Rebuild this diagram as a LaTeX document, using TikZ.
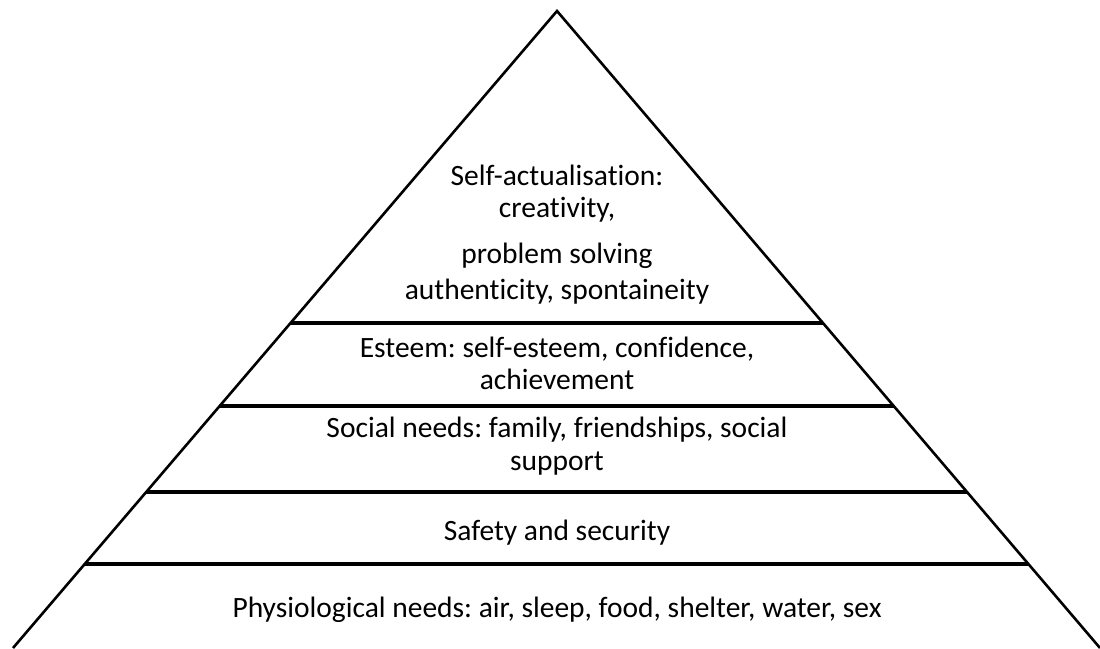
\documentclass[tikz,border=0pt]{standalone}
\usepackage{fontspec}
\setmainfont{Carlito}[Ligatures=NoCommon]
\frenchspacing
\usetikzlibrary{calc}
\tikzset{
  side/.style={line width=2.6pt,line join=miter},
  tier/.style={line width=3.4pt},
  tiertext/.style={anchor=base,inner sep=0pt,font=\fontsize{29.5}{36}\selectfont}
}
\begin{document}
\begin{tikzpicture}[x=1pt,y=-1pt]
  \useasboundingbox (0,0) rectangle (1100,648);
  \coordinate (apex) at (557,11);
  \coordinate (bl) at (13,648);
  \coordinate (br) at (1100,648);
  \draw[side] (bl) -- (apex) -- (br);
  % level boundaries, clipped to the two sides
  \foreach \y/\n in {323/a,406/b,492/c,564/d}{
    \draw[tier] ($(apex)!{(\y-11)/637}!(bl)$) coordinate (l\n)
             -- ($(apex)!{(\y-11)/637}!(br)$) coordinate (r\n);
  }

  \node[tiertext] (self1) at (557,185) {Self-actualisation:};
  \node[tiertext] (self2) at (557,217) {creativity,};
  \node[tiertext] (self3) at (557,263) {problem solving};
  \node[tiertext] (self4) at (557,299) {authenticity, spontaineity};
  \node[tiertext] (est1) at (557,357) {Esteem: self-esteem, confidence,};
  \node[tiertext] (est2) at (557,389) {achievement};
  \node[tiertext] (soc1) at (557,437) {Social needs: family, friendships, social};
  \node[tiertext] (soc2) at (557,470) {support};
  \node[tiertext] (safe) at (557,540) {Safety and security};
  \node[tiertext] (phys) at (557,617) {Physiological needs: air, sleep, food, shelter, water, sex};
\end{tikzpicture}
\end{document}
